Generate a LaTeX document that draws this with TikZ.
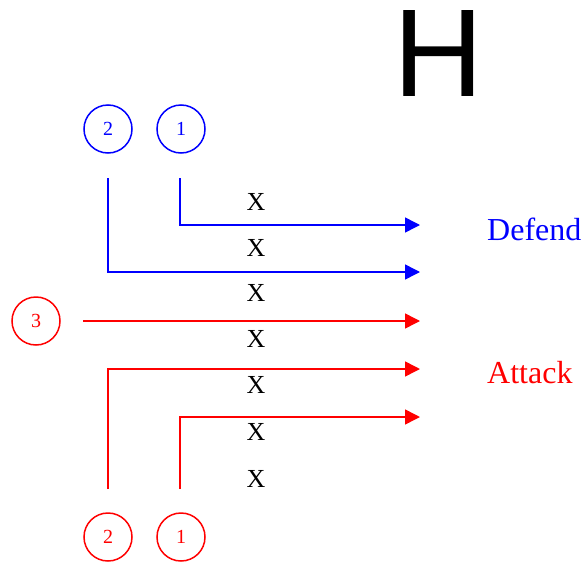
\documentclass[tikz,border=0pt]{standalone}
\usepackage{fontspec}
\setmainfont{Liberation Serif}
\newfontfamily\bigsans{Liberation Sans}
\usetikzlibrary{arrows.meta}
\tikzstyle{player} = [circle, draw, line width=1.5pt, minimum size=48pt, inner sep=0pt, font=\fontsize{20}{20}\selectfont]
\tikzstyle{run} = [line width=1.5pt, -{Triangle[length=15pt, width=15pt]}]
\tikzstyle{gap} = [font=\fontsize{26}{26}\selectfont]
\tikzstyle{side} = [anchor=west, inner sep=0pt, font=\fontsize{32}{32}\selectfont]

\begin{document}
\begin{tikzpicture}[x=1pt, y=-1pt]
\useasboundingbox (0,0) rectangle (583,562);

\node (letter) [anchor=base, inner sep=0pt, text height=89pt, font=\bigsans\fontsize{125}{125}\selectfont] at (439,96) {H};

% defenders
\node (d2) [player, blue] at (108,129) {2};
\node (d1) [player, blue] at (181,129) {1};
\coordinate (d1start) at (180,178);
\coordinate (d2start) at (108,178);
\coordinate (d1end) at (420,225);
\coordinate (d2end) at (420,272);
\draw [run, blue] (d1start) |- (d1end);
\draw [run, blue] (d2start) |- (d2end);

% attackers
\node (a3) [player, red] at (36,321) {3};
\node (a2) [player, red] at (108,537) {2};
\node (a1) [player, red] at (181,537) {1};
\coordinate (a3start) at (83,321);
\coordinate (a3end) at (420,321);
\coordinate (a2start) at (108,489);
\coordinate (a2end) at (420,369);
\coordinate (a1start) at (180,489);
\coordinate (a1end) at (420,417);
\draw [run, red] (a3start) -- (a3end);
\draw [run, red] (a2start) |- (a2end);
\draw [run, red] (a1start) |- (a1end);

% gaps
\node (x1) [gap] at (256,202) {X};
\node (x2) [gap] at (256,248) {X};
\node (x3) [gap] at (256,293) {X};
\node (x4) [gap] at (256,339) {X};
\node (x5) [gap] at (256,385) {X};
\node (x6) [gap] at (256,432) {X};
\node (x7) [gap] at (256,479) {X};

\node (defend) [side, blue] at (487,229) {Defend};
\node (attack) [side, red] at (487,373) {Attack};

\end{tikzpicture}
\end{document}
